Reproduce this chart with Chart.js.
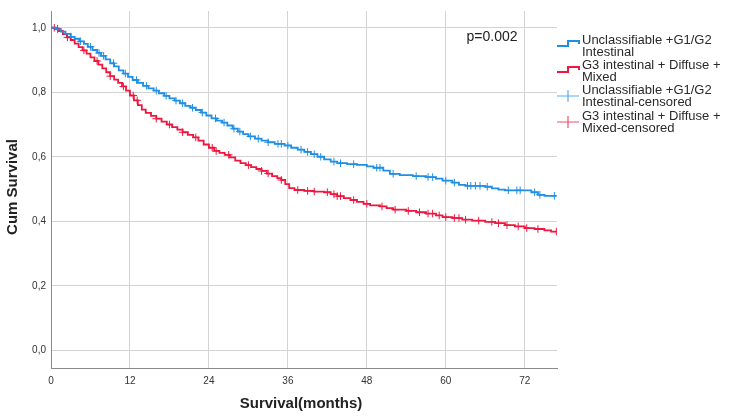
<!DOCTYPE html>
<html>
<head>
<meta charset="utf-8">
<script src="https://cdn.jsdelivr.net/npm/chart.js@4"></script>
<style>
  html, body { margin: 0; padding: 0; background: #fff; }
  #wrap { width: 730px; height: 418px; }
</style>
</head>
<body>
<div id="wrap"><canvas id="chart"></canvas></div>
<script>
// Kaplan-Meier steps (months, cumulative survival)
const blueTimes = [0, 0.8, 1.5, 2.2, 3.0, 3.6, 4.3, 5.0, 5.6, 6.3, 7.0, 7.6, 8.3, 9.0, 9.6, 10.3, 11.0, 11.7, 12.4, 13.2,
  14.0, 14.8, 15.6, 16.4, 17.2, 18.0, 18.8, 19.6, 20.4, 21.2, 22.0, 22.8, 23.6, 24.4, 25.2, 26.0, 26.8, 27.6, 28.4, 29.2,
  30.0, 31.0, 32.0, 33.0, 34.0, 35.5, 36.5, 37.5, 38.5, 39.5, 40.5, 41.5, 42.5, 43.5, 45.0, 46.5, 48.0, 49.0, 50.5, 51.5,
  53.0, 55.0, 57.0, 58.5, 59.5, 61.0, 62.0, 63.0, 66.0, 67.0, 68.0, 69.0, 73.0, 74.0, 75.0, 76.8];
const blueSurv = [1.0, 0.995, 0.988, 0.981, 0.972, 0.966, 0.958, 0.950, 0.941, 0.931, 0.922, 0.913, 0.902, 0.890, 0.880, 0.868, 0.858, 0.848, 0.838, 0.829,
  0.820, 0.812, 0.805, 0.797, 0.789, 0.781, 0.774, 0.766, 0.758, 0.752, 0.745, 0.737, 0.728, 0.719, 0.712, 0.706, 0.697, 0.687, 0.678, 0.670,
  0.663, 0.656, 0.650, 0.645, 0.640, 0.635, 0.628, 0.622, 0.615, 0.608, 0.600, 0.592, 0.585, 0.580, 0.577, 0.575, 0.570, 0.566, 0.557, 0.547,
  0.543, 0.540, 0.537, 0.532, 0.526, 0.520, 0.513, 0.510, 0.507, 0.502, 0.498, 0.496, 0.490, 0.482, 0.479, 0.479];
const blueCensored = [1, 3, 4.5, 6, 7.3, 8, 9.5, 11.3, 13, 14.5, 16, 17.5, 19, 20, 21.5, 23, 25, 26.3, 27.8, 28.7, 30.3, 31.5, 33,
  34.5, 35, 36, 38, 39, 40, 41, 43, 44, 46, 49.5, 50, 52, 55.5, 57.3, 58, 60, 61.3, 63.3, 63.8, 64.5, 65.2, 66.3, 69.5, 70.8, 71.3, 73.5, 74.3, 76.5];

const redTimes = [0, 0.6, 1.2, 1.8, 2.4, 3.0, 3.6, 4.2, 4.8, 5.4, 6.0, 6.6, 7.2, 7.8, 8.4, 9.0, 9.6, 10.2, 10.8, 11.4,
  12.0, 12.6, 13.2, 13.8, 14.4, 15.2, 16.0, 16.8, 17.6, 18.4, 19.2, 20.0, 20.8, 21.6, 22.4, 23.2, 24.0, 24.8, 25.6, 26.4,
  27.2, 28.0, 28.8, 29.6, 30.4, 31.2, 32.0, 32.8, 33.6, 34.4, 35.0, 35.6, 36.2, 37.0, 38.5, 40.0, 41.5, 42.5, 43.5, 44.5,
  45.5, 46.5, 47.5, 48.5, 50.0, 51.0, 52.0, 54.0, 55.5, 57.0, 58.5, 59.5, 61.0, 62.5, 64.0, 66.0, 67.5, 69.0, 70.5, 72.0,
  73.5, 75.0, 76.0, 76.8];
const redSurv = [1.0, 0.997, 0.990, 0.980, 0.970, 0.962, 0.951, 0.940, 0.930, 0.920, 0.908, 0.897, 0.886, 0.874, 0.862, 0.850, 0.839, 0.829, 0.818, 0.805,
  0.790, 0.775, 0.760, 0.746, 0.736, 0.727, 0.718, 0.709, 0.700, 0.692, 0.684, 0.676, 0.668, 0.660, 0.650, 0.638, 0.628, 0.618, 0.612, 0.606,
  0.598, 0.588, 0.580, 0.574, 0.568, 0.562, 0.556, 0.548, 0.540, 0.534, 0.528, 0.515, 0.503, 0.497, 0.494, 0.492, 0.490, 0.484, 0.478, 0.472,
  0.466, 0.460, 0.454, 0.449, 0.446, 0.441, 0.436, 0.432, 0.428, 0.424, 0.418, 0.413, 0.410, 0.405, 0.402, 0.398, 0.394, 0.388, 0.384, 0.379,
  0.376, 0.372, 0.368, 0.368];
const redCensored = [0.5, 1, 2.5, 5, 7, 9, 11, 12.5, 13.1, 16, 18, 20, 22, 24.5, 25.1, 27, 30, 32, 33, 35, 37.5, 39, 40, 42,
  43, 43.5, 44, 46, 48, 50.3, 52.3, 54.3, 56, 57.3, 58, 59, 60, 61.3, 62, 63, 65, 67, 68, 69.3, 71, 72.3, 74, 76.8];

const xTicks = [0, 12, 24, 36, 48, 60, 72];
const yTicks = [0, 0.2, 0.4, 0.6, 0.8, 1.0];
const yTickLabels = ['0,0', '0,2', '0,4', '0,6', '0,8', '1,0'];

const legendLabels = [
  ['Unclassifiable +G1/G2', 'Intestinal'],
  ['G3 intestinal + Diffuse +', 'Mixed'],
  ['Unclassifiable +G1/G2', 'Intestinal-censored'],
  ['G3 intestinal + Diffuse +', 'Mixed-censored']
];
const pText = 'p=0.002';

const BLUE = '#1f8fe6';
const RED = '#ee1740';

function toPoints(ts, ss){ return ts.map((t, i) => ({x: t, y: ss[i]})); }
// survival value of a step curve at time t (for placing censor marks)
function survAt(ts, ss, t){
  let v = ss[0];
  for(let i = 0; i < ts.length; i++){ if(ts[i] <= t) v = ss[i]; }
  return v;
}
function censorPoints(ts, ss, cs){ return cs.map(t => ({x: t, y: survAt(ts, ss, t)})); }

const FONT = '"Liberation Sans", Arial, sans-serif';

const extras = {
  id: 'extras',
  afterDraw(chart){
    const ctx = chart.ctx;
    ctx.save();
    // axis titles
    ctx.fillStyle = '#222';
    ctx.font = 'bold 15px ' + FONT;
    ctx.textAlign = 'center';
    ctx.textBaseline = 'middle';
    ctx.fillText('Survival(months)', 301, 404);
    ctx.translate(13, 187);
    ctx.rotate(-Math.PI / 2);
    ctx.fillText('Cum Survival', 0, 0);
    ctx.restore();

    ctx.save();
    ctx.fillStyle = '#222';
    ctx.font = '14px ' + FONT;
    ctx.textAlign = 'center';
    ctx.textBaseline = 'middle';
    ctx.fillText(pText, 492, 37);

    // legend
    const lx = 582;
    const rows = [40.5, 65, 90.5, 116];
    ctx.font = '13px ' + FONT;
    ctx.textAlign = 'left';
    ctx.fillStyle = '#2a2a2a';
    legendLabels.forEach((lines, i) => {
      ctx.fillText(lines[0], lx, rows[i]);
      ctx.fillText(lines[1], lx, rows[i] + 12);
    });
    // step icons
    ctx.lineWidth = 2;
    [[BLUE, 46], [RED, 72]].forEach(([c, y]) => {
      ctx.strokeStyle = c;
      ctx.beginPath();
      ctx.moveTo(557, y);
      ctx.lineTo(568, y);
      ctx.lineTo(568, y - 5);
      ctx.lineTo(579, y - 5);
      ctx.lineTo(579, y - 2);
      ctx.stroke();
    });
    // censor icons
    ctx.lineWidth = 1.2;
    [['#5aaef0', 96], ['#f0506e', 122]].forEach(([c, y]) => {
      ctx.strokeStyle = c;
      ctx.beginPath();
      ctx.moveTo(557, y);
      ctx.lineTo(579, y);
      ctx.moveTo(568, y - 6);
      ctx.lineTo(568, y + 6);
      ctx.stroke();
    });
    ctx.restore();
  }
};

new Chart(document.getElementById('chart'), {
  type: 'line',
  data: {
    datasets: [
      {
        data: toPoints(blueTimes, blueSurv),
        borderColor: BLUE, borderWidth: 1.8, stepped: 'before',
        pointRadius: 0, fill: false
      },
      {
        data: toPoints(redTimes, redSurv),
        borderColor: RED, borderWidth: 1.8, stepped: 'before',
        pointRadius: 0, fill: false
      },
      {
        type: 'scatter',
        data: censorPoints(blueTimes, blueSurv, blueCensored),
        pointStyle: 'cross', pointRadius: 3.8, borderColor: BLUE, borderWidth: 1,
        showLine: false
      },
      {
        type: 'scatter',
        data: censorPoints(redTimes, redSurv, redCensored),
        pointStyle: 'cross', pointRadius: 3.8, borderColor: RED, borderWidth: 1,
        showLine: false
      }
    ]
  },
  options: {
    responsive: true,
    maintainAspectRatio: false,
    animation: false,
    layout: { padding: { top: 7, right: 173, left: 0, bottom: 0 } },
    plugins: { legend: { display: false }, tooltip: { enabled: false } },
    scales: {
      x: {
        type: 'linear', min: 0, max: 76.9,
        afterBuildTicks: s => { s.ticks = xTicks.map(v => ({value: v})); },
        afterFit: s => { s.height = 50; },
        grid: { color: '#d3d3d3', lineWidth: 1, drawTicks: false },
        border: { color: '#8a8a8a', width: 1 },
        ticks: { color: '#333', font: { family: FONT, size: 10 }, padding: 7, maxRotation: 0 }
      },
      y: {
        type: 'linear', min: -0.055, max: 1.052,
        afterBuildTicks: s => { s.ticks = yTicks.map(v => ({value: v})); },
        afterFit: s => { s.width = 51; },
        grid: { color: '#d3d3d3', lineWidth: 1, drawTicks: false },
        border: { color: '#8a8a8a', width: 1 },
        ticks: {
          color: '#333', font: { family: FONT, size: 10 }, padding: 5,
          callback: (v) => { const i = yTicks.indexOf(v); return i >= 0 ? yTickLabels[i] : ''; }
        }
      }
    }
  },
  plugins: [extras]
});
</script>
</body>
</html>
